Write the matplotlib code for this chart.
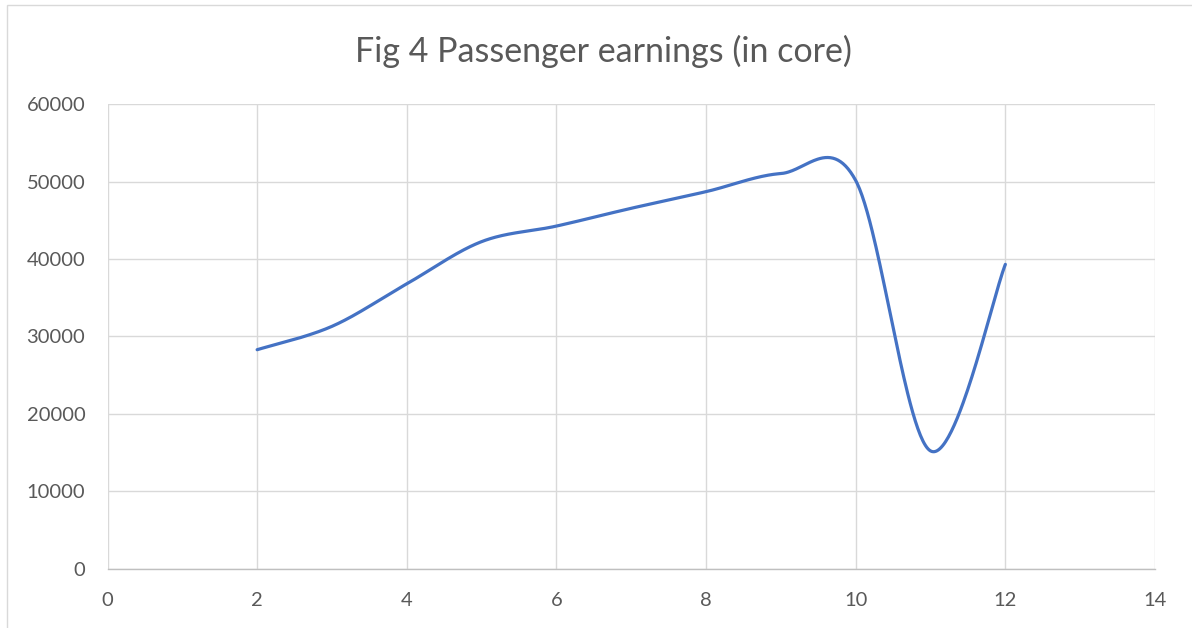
import numpy as np
import matplotlib
matplotlib.use("Agg")
import matplotlib.pyplot as plt
from matplotlib.patches import Rectangle

# Data
x_vals = [2, 3, 4, 5, 6, 7, 8, 9, 10, 11, 12]
earnings = [28280, 31300, 36800, 42250, 44260, 46560, 48710, 51050, 50150, 15200, 39310]
x_ticks = [0, 2, 4, 6, 8, 10, 12, 14]
y_ticks = [0, 10000, 20000, 30000, 40000, 50000, 60000]
title = "Fig 4 Passenger earnings (in core)"


def catmull_rom(xs, ys, n=60):
    """Excel-like smoothed line (uniform Catmull-Rom through the data points)."""
    P = np.column_stack([xs, ys]).astype(float)
    P = np.vstack([P[0], P, P[-1]])
    out = []
    t = np.linspace(0, 1, n)
    for i in range(1, len(P) - 2):
        p0, p1, p2, p3 = P[i - 1], P[i], P[i + 1], P[i + 2]
        c1 = p1 + (p2 - p0) / 6.0
        c2 = p2 - (p3 - p1) / 6.0
        seg = ((1 - t) ** 3)[:, None] * p1 + (3 * (1 - t) ** 2 * t)[:, None] * c1 \
            + (3 * (1 - t) * t ** 2)[:, None] * c2 + (t ** 3)[:, None] * p2
        out.append(seg if i == 1 else seg[1:])
    out = np.vstack(out)
    return out[:, 0], out[:, 1]


plt.rcParams['font.family'] = ['Lato', 'DejaVu Sans']
W, H = 1192, 628
fig = plt.figure(figsize=(W / 100, H / 100), dpi=100)
fig.patch.set_facecolor('white')

# outer chart border
fig.add_artist(Rectangle((7 / W, -0.1), 1.2, (H - 5) / H + 0.1, transform=fig.transFigure,
                         fill=False, edgecolor='#d9d9d9', linewidth=1.0))

left, right, top, bottom = 107.5, 1155, 104.3, 568.5
ax = fig.add_axes([left / W, (H - bottom) / H, (right - left) / W, (bottom - top) / H])

sx, sy = catmull_rom(x_vals, earnings)
ax.plot(sx, sy, color='#4472C4', linewidth=2.3, solid_capstyle='round', zorder=3)

ax.set_xlim(0, 14)
ax.set_ylim(0, 60000)
ax.set_xticks(x_ticks)
ax.set_yticks(y_ticks)
ax.set_xticklabels([str(v) for v in x_ticks])
ax.set_yticklabels([str(v) for v in y_ticks])
ax.grid(True, color='#d9d9d9', linewidth=1.0, zorder=0)
ax.set_axisbelow(True)
for s in ['top', 'right', 'left']:
    ax.spines[s].set_visible(False)
ax.spines['bottom'].set_color('#bfbfbf')
ax.spines['bottom'].set_linewidth(1.0)
ax.tick_params(axis='both', length=0, colors='#595959', labelsize=14.5)
ax.tick_params(axis='y', pad=16)
ax.tick_params(axis='x', pad=17)

fig.text(603 / W, 1 - 51 / H, title, ha='center', va='center', fontsize=24.5, color='#595959')

fig.savefig('out.png', dpi=100, facecolor='white')
